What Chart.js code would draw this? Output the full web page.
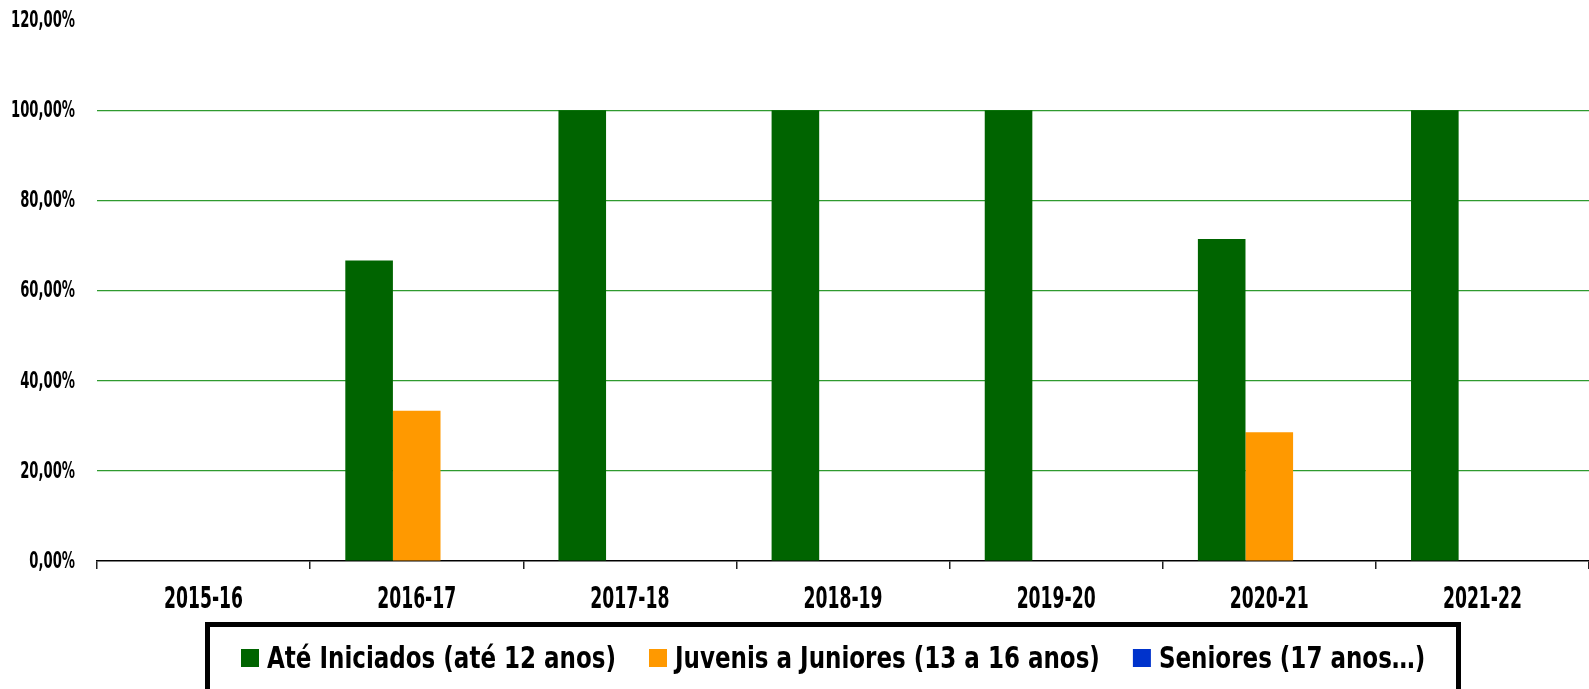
<!DOCTYPE html>
<html>
<head>
<meta charset="utf-8">
<script src="https://cdn.jsdelivr.net/npm/chart.js@4/dist/chart.umd.min.js"></script>
<style>
html,body{margin:0;padding:0;background:#fff;}
canvas{display:block;}
</style>
</head>
<body>
<canvas id="c" width="1589" height="689"></canvas>
<script>
const categories = ["2015-16","2016-17","2017-18","2018-19","2019-20","2020-21","2021-22"];
const ateIniciados = [0, 66.67, 100, 100, 100, 71.43, 100];
const juvenisJuniores = [0, 33.33, 0, 0, 0, 28.57, 0];
const seniores = [0, 0, 0, 0, 0, 0, 0];
const seriesNames = ["Até Iniciados (até 12 anos)", "Juvenis a Juniores (13 a 16 anos)", "Seniores (17 anos…)"];
const yTicks = [0, 20, 40, 60, 80, 100, 120];

const FONT = "'DejaVu Sans Condensed', 'DejaVu Sans', sans-serif";
const fmtPct = v => v.toFixed(2).replace('.', ',') + '%';

// draws condensed text (horizontally squeezed) so it resembles the narrow font of the original
function squeezed(ctx, text, x, y, sx, align) {
  ctx.save();
  ctx.translate(x, y);
  ctx.scale(sx, 1);
  ctx.textAlign = align;
  ctx.fillText(text, 0, 0);
  ctx.restore();
}

const labelsPlugin = {
  id: 'condensedLabels',
  afterDraw(chart) {
    const ctx = chart.ctx;
    ctx.save();
    ctx.fillStyle = '#000';
    ctx.textBaseline = 'middle';

    // y axis labels
    const ys = chart.scales.y;
    ctx.font = "bold 23px " + FONT;
    const syY = 64 / ctx.measureText("120,00%").width;
    ys.ticks.forEach(t => {
      squeezed(ctx, fmtPct(t.value), 75, ys.getPixelForValue(t.value) + 1, syY, 'right');
    });

    // x axis labels
    const xs = chart.scales.x;
    ctx.font = "bold 30px " + FONT;
    const sxX = 79 / ctx.measureText("2015-16").width;
    chart.data.labels.forEach((lab, i) => {
      squeezed(ctx, lab, xs.getPixelForValue(i), 600, sxX, 'center');
    });

    // legend
    ctx.lineWidth = 5;
    ctx.strokeStyle = '#000';
    ctx.strokeRect(207.5, 624.5, 1251, 80);
    ctx.font = "bold 31px " + FONT;
    const sxL = 349 / ctx.measureText(seriesNames[0]).width;
    let x = 241;
    chart.data.datasets.forEach(ds => {
      ctx.fillStyle = ds.backgroundColor;
      ctx.fillRect(x, 649, 18, 18);
      ctx.fillStyle = '#000';
      squeezed(ctx, ds.label, x + 26, 660, sxL, 'left');
      x += 26 + ctx.measureText(ds.label).width * sxL + 33;
    });
    ctx.restore();
  }
};

new Chart(document.getElementById('c'), {
  type: 'bar',
  data: {
    labels: categories,
    datasets: [
      { label: seriesNames[0], data: ateIniciados, backgroundColor: '#006400' },
      { label: seriesNames[1], data: juvenisJuniores, backgroundColor: '#FF9900' },
      { label: seriesNames[2], data: seniores, backgroundColor: '#0033CC' }
    ]
  },
  options: {
    responsive: false,
    animation: false,
    devicePixelRatio: 1,
    layout: { padding: { top: 20, right: 0, bottom: 0, left: 0 } },
    plugins: { legend: { display: false }, tooltip: { enabled: false } },
    datasets: { bar: { categoryPercentage: 0.67, barPercentage: 1.0, borderWidth: 0 } },
    scales: {
      x: {
        offset: true,
        grid: { display: true, drawOnChartArea: false, drawTicks: true, tickLength: 8, color: '#222', lineWidth: 1.5, offset: true },
        border: { display: true, color: '#000', width: 1.5 },
        ticks: { display: false },
        afterFit(scale) { scale.height = 128; }
      },
      y: {
        min: 0, max: 120,
        afterBuildTicks(scale) { scale.ticks = yTicks.map(v => ({ value: v })); },
        grid: {
          color: ctx => (ctx.tick && (ctx.tick.value === 0 || ctx.tick.value === 120)) ? 'rgba(0,0,0,0)' : '#2f9a2f',
          lineWidth: 1.2,
          drawTicks: false
        },
        border: { display: false },
        ticks: { display: false },
        afterFit(scale) { scale.width = 97; }
      }
    }
  },
  plugins: [labelsPlugin]
});
</script>
</body>
</html>
